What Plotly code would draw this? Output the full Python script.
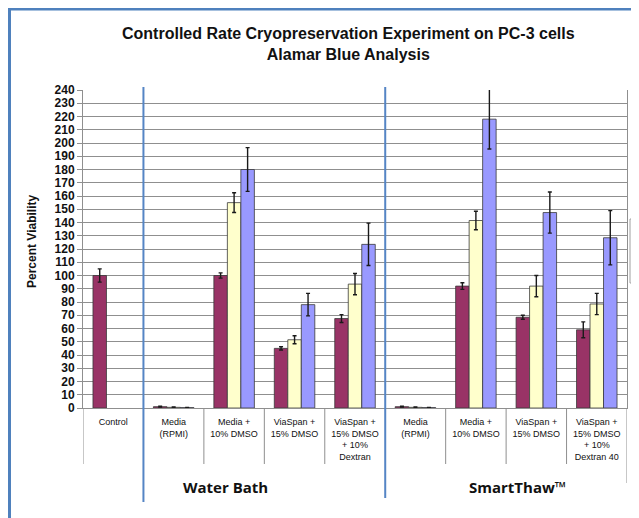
import plotly.graph_objects as go

# ---- data ----
categories = [
    "Control",
    "Media<br>(RPMI)",
    "Media +<br>10% DMSO",
    "ViaSpan +<br>15% DMSO",
    "ViaSpan +<br>15% DMSO<br>+ 10%<br>Dextran",
    "Media<br>(RPMI)",
    "Media +<br>10% DMSO",
    "ViaSpan +<br>15% DMSO",
    "ViaSpan +<br>15% DMSO<br>+ 10%<br>Dextran 40",
]
series_names = ["Series 1", "Series 2", "Series 3"]
series1 = [100, 1.0, 100, 45, 67.5, 1.0, 92, 68.5, 59]
series1_err = [5, 0.3, 2, 1.2, 3, 0.3, 2.5, 1.5, 6]
series2 = [None, 0.5, 155, 51.5, 93.5, 0.5, 141.5, 92, 78.5]
series2_err = [None, 0.2, 7.5, 3, 8, 0.2, 7, 8, 8]
series3 = [None, 0.3, 180, 78, 123.5, 0.3, 218, 147.5, 128.5]
series3_err = [None, 0.2, 16.5, 8.5, 16, 0.2, 22.5, 15.5, 20.5]
colors = ["#993366", "#FFFFCC", "#9999FF"]
y_ticks = list(range(0, 241, 10))
group_labels = ["Water Bath", "SmartThaw™"]
title_lines = ["Controlled Rate Cryopreservation Experiment on PC-3 cells", "Alamar Blue Analysis"]
y_title = "Percent Viability"

x_pos = list(range(len(categories)))

fig = go.Figure()
for name, vals, errs, col in zip(series_names, [series1, series2, series3],
                                  [series1_err, series2_err, series3_err], colors):
    fig.add_trace(go.Bar(
        x=x_pos, y=vals, name=name,
        marker=dict(color=col, line=dict(color="#3a3a3a", width=0.8)),
        error_y=dict(type="data", array=errs, visible=True,
                     color="#1a1a1a", thickness=1.4, width=2),
    ))

# page has an 8px body margin: work in screen pixels, convert to figure pixels
OFF = 8
W, H = 639 - OFF, 518 - OFF
PL, PR, PT, PB = 83, 627, 90, 408          # plot area in screen pixels
L, R, T, B = PL - OFF, W - (PR - OFF), PT - OFF, H - (PB - OFF)
pw, ph = PR - PL, PB - PT

def px_to_paper_x(px):
    return (px - PL) / pw

def px_to_paper_y(py):
    return (PB - py) / ph

fig.update_layout(
    width=W, height=H,
    margin=dict(l=L, r=R, t=T, b=B, pad=0),
    paper_bgcolor="white", plot_bgcolor="white",
    barmode="group", bargap=0.33, bargroupgap=0,
    showlegend=False,
    font=dict(family="Liberation Sans, Arial, sans-serif", color="#111"),
)

fig.update_yaxes(
    range=[0, 240], tickvals=y_ticks, ticktext=[str(v) for v in y_ticks],
    showgrid=True, gridcolor="#8f8f8f", gridwidth=1,
    showline=True, linecolor="#8f8f8f", linewidth=1, mirror=True,
    ticks="outside", ticklen=5, tickcolor="#8f8f8f",
    tickfont=dict(size=12, family="Liberation Sans, Arial, sans-serif",
                  color="#111", weight="bold"),
    zeroline=False,
)
fig.update_xaxes(
    range=[-0.5, len(categories) - 0.5],
    tickvals=x_pos, ticktext=categories,
    tickfont=dict(size=9, family="Liberation Sans, Arial, sans-serif", color="#111"),
    ticklabelstandoff=5,
    showline=True, linecolor="#8f8f8f", linewidth=1,
    ticks="", showgrid=False, zeroline=False, tickangle=0,
)

# Title
fig.add_annotation(
    text="<br>".join("<b>" + t + "</b>" for t in title_lines),
    xref="paper", yref="paper", x=px_to_paper_x(348), y=px_to_paper_y(44),
    showarrow=False, xanchor="center", yanchor="middle",
    font=dict(size=16, family="Liberation Sans, Arial, sans-serif", color="#111"),
)
# Y title
fig.add_annotation(
    text="<b>" + y_title + "</b>", textangle=-90,
    xref="paper", yref="paper", x=px_to_paper_x(32), y=px_to_paper_y(242),
    showarrow=False, xanchor="center", yanchor="middle",
    font=dict(size=12, family="Liberation Sans, Arial, sans-serif", color="#111"),
)
# Group labels
for lbl, cx in zip(group_labels, [225, 517]):
    fig.add_annotation(
        text="<b>" + lbl + "</b>",
        xref="paper", yref="paper", x=px_to_paper_x(cx), y=px_to_paper_y(487),
        showarrow=False, xanchor="center", yanchor="middle",
        font=dict(size=15, family="Open Sans, sans-serif", color="#111"),
    )

shapes = []
# category dividers below axis
for xb in [-0.5, 1.5, 2.5, 3.5, 5.5, 6.5, 7.5]:
    shapes.append(dict(type="line", xref="x", yref="paper", x0=xb, x1=xb,
                       y0=0, y1=px_to_paper_y(464), line=dict(color="#8f8f8f", width=1)))
shapes.append(dict(type="line", xref="x", yref="paper", x0=len(categories) - 0.5,
                   x1=len(categories) - 0.5, y0=0, y1=px_to_paper_y(483),
                   line=dict(color="#8f8f8f", width=1)))
# blue group separators
for xb, yb in [(0.5, 502), (4.5, 498)]:
    shapes.append(dict(type="line", xref="x", yref="paper", x0=xb, x1=xb,
                       y0=px_to_paper_y(87), y1=px_to_paper_y(yb),
                       line=dict(color="#5585C5", width=2)))
# outer frame (top + left), as close to the page edge as possible
shapes.append(dict(type="line", xref="paper", yref="paper",
                   x0=px_to_paper_x(8), x1=px_to_paper_x(639),
                   y0=px_to_paper_y(9), y1=px_to_paper_y(9),
                   line=dict(color="#4F81BD", width=3)))
shapes.append(dict(type="line", xref="paper", yref="paper",
                   x0=px_to_paper_x(9.5), x1=px_to_paper_x(9.5),
                   y0=px_to_paper_y(8), y1=px_to_paper_y(518),
                   line=dict(color="#4F81BD", width=3)))
# clipped legend box stub (left part only visible)
legend_box = dict(x0=630, x1=639, y0=219, y1=283)
shapes.append(dict(type="line", xref="paper", yref="paper",
                   x0=px_to_paper_x(legend_box["x0"]), x1=px_to_paper_x(legend_box["x0"]),
                   y0=px_to_paper_y(legend_box["y0"]), y1=px_to_paper_y(legend_box["y1"]),
                   line=dict(color="#a0a0a0", width=1)))
for yy in (legend_box["y0"], legend_box["y1"]):
    shapes.append(dict(type="line", xref="paper", yref="paper",
                       x0=px_to_paper_x(legend_box["x0"]), x1=px_to_paper_x(legend_box["x1"]),
                       y0=px_to_paper_y(yy), y1=px_to_paper_y(yy),
                       line=dict(color="#a0a0a0", width=1)))
fig.update_layout(shapes=shapes)

fig.write_html("out.html")
